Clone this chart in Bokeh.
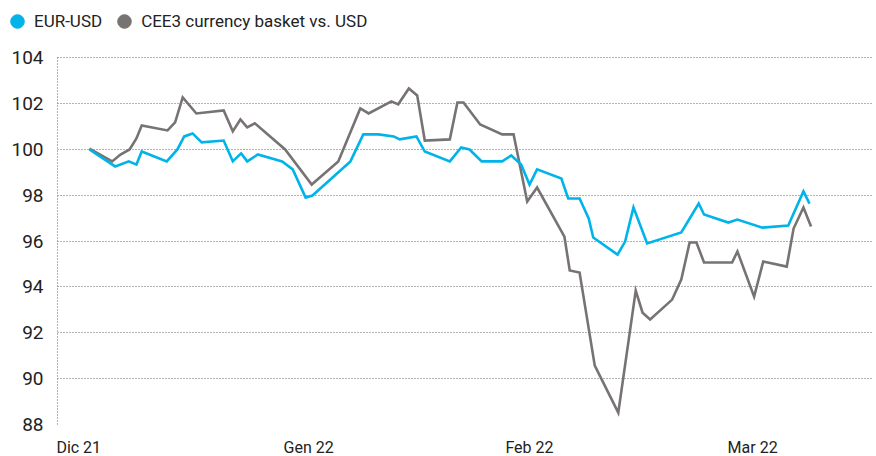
from bokeh.plotting import figure
from bokeh.layouts import column
from bokeh.models import Range1d, FixedTicker, Legend, LegendItem
from bokeh.embed import file_html
from bokeh.resources import INLINE

# ---- data (x: position along the month-spaced axis; month starts at 0, 30, 60, 90)
month_label_pos = [2.8, 33.1, 62.2, 91.6]     # where each month label sits (left-aligned look)
month_labels = ["Dic 21", "Gen 22", "Feb 22", "Mar 22"]
y_ticks = [88, 90, 92, 94, 96, 98, 100, 102, 104]

eur_x = [4.2, 7.6, 9.4, 10.4, 11.1, 14.4, 15.8, 16.7, 17.8, 19.0, 21.9, 23.1, 24.2, 25.0, 26.4,
         29.6, 31.0, 32.7, 33.6, 38.6, 40.3, 42.3, 44.3, 45.1, 47.3, 48.4, 51.7, 53.2, 54.3, 55.9,
         58.6, 59.8, 61.1, 62.2, 63.2, 66.4, 67.3, 68.8, 70.0, 70.6, 73.8, 74.8, 75.9, 77.7, 82.2,
         84.5, 85.2, 88.4, 89.6, 92.9, 96.3, 98.3, 99.1]
eur_usd = [100.0, 99.26, 99.48, 99.34, 99.91, 99.48, 100.0, 100.57, 100.70, 100.31, 100.39, 99.48,
           99.83, 99.48, 99.78, 99.48, 99.13, 97.90, 97.99, 99.48, 100.66, 100.66, 100.57, 100.44,
           100.57, 99.91, 99.48, 100.09, 100.0, 99.48, 99.48, 99.74, 99.34, 98.47, 99.13, 98.73,
           97.86, 97.86, 96.99, 96.16, 95.41, 95.98, 97.47, 95.90, 96.38, 97.64, 97.16, 96.81,
           96.94, 96.59, 96.68, 98.17, 97.64]

cee3_x = [4.2, 7.2, 8.3, 9.5, 10.4, 11.1, 14.5, 15.5, 16.5, 18.3, 21.9, 23.1, 24.1, 25.0, 26.0,
          30.0, 33.5, 37.0, 39.9, 41.0, 44.0, 44.9, 46.3, 47.4, 48.4, 51.7, 52.7, 53.5, 55.7, 58.6,
          60.1, 61.9, 63.2, 66.8, 67.5, 68.8, 70.8, 73.9, 76.2, 77.1, 78.1, 81.0, 82.2, 83.3, 84.2,
          85.2, 88.9, 89.6, 91.8, 93.0, 96.1, 97.0, 98.3, 99.3]
cee3_usd = [100.04, 99.48, 99.78, 100.0, 100.48, 101.05, 100.83, 101.18, 102.27, 101.57, 101.70,
            100.79, 101.31, 100.96, 101.14, 100.0, 98.47, 99.48, 101.79, 101.57, 102.10, 101.97,
            102.66, 102.36, 100.39, 100.44, 102.05, 102.05, 101.09, 100.66, 100.66, 97.73, 98.34,
            96.20, 94.72, 94.63, 90.57, 88.52, 93.84, 92.88, 92.58, 93.45, 94.32, 95.94, 95.94,
            95.07, 95.07, 95.55, 93.58, 95.11, 94.89, 96.55, 97.47, 96.64]

series_names = ["EUR-USD", "CEE3 currency basket vs. USD"]

CYAN = "#00B4EA"
GRAY = "#777372"
TEXT = "#222222"
FONT = "Roboto"

# ---------------- legend strip ----------------
lg = figure(frame_width=872, frame_height=42, x_range=Range1d(0, 1), y_range=Range1d(0, 1),
            output_backend="svg", toolbar_location=None,
            min_border_left=0, min_border_right=0, min_border_top=0, min_border_bottom=0)
lg.axis.visible = False
lg.grid.visible = False
lg.outline_line_color = None
# one point each (lies outside this strip's ranges, so only the legend glyph shows)
r_eur = lg.scatter(x=eur_x[:1], y=eur_usd[:1], size=10, fill_color=CYAN, line_color=CYAN)
r_cee = lg.scatter(x=cee3_x[:1], y=cee3_usd[:1], size=10, fill_color=GRAY, line_color=GRAY)
legend = Legend(items=[LegendItem(label=series_names[0], renderers=[r_eur]),
                       LegendItem(label=series_names[1], renderers=[r_cee])],
                location=(0, 4), orientation="horizontal",
                glyph_width=34, glyph_height=34, label_standoff=0, spacing=5,
                padding=0, margin=0, background_fill_alpha=0, border_line_alpha=0,
                label_text_font=FONT, label_text_font_size="17px", label_text_color=TEXT)
lg.add_layout(legend)

# ---------------- main chart ----------------
p = figure(frame_width=815, frame_height=369,
           x_range=Range1d(0, 107.4), y_range=Range1d(88, 104.1),
           output_backend="svg", toolbar_location=None,
           min_border_left=57, min_border_right=0, min_border_top=13, min_border_bottom=32)
p.outline_line_color = None
p.background_fill_color = "white"

p.line(cee3_x, cee3_usd, line_color=GRAY, line_width=2.6, line_join="miter")
p.line(eur_x, eur_usd, line_color=CYAN, line_width=2.6, line_join="miter")

# x axis
p.xaxis.ticker = FixedTicker(ticks=month_label_pos)
p.xaxis.major_label_overrides = {t: l for t, l in zip(month_label_pos, month_labels)}
p.xaxis.axis_line_color = None
p.xaxis.major_tick_line_color = None
p.xaxis.minor_tick_line_color = None
p.xaxis.major_tick_out = 0
p.xaxis.major_tick_in = 0
p.xaxis.major_label_standoff = 13
p.xaxis.major_label_text_font = FONT
p.xaxis.major_label_text_font_size = "16px"
p.xaxis.major_label_text_color = TEXT
p.xgrid.visible = False

# y axis
p.yaxis.ticker = FixedTicker(ticks=y_ticks)
p.yaxis.axis_line_color = "#666666"
p.yaxis.axis_line_dash = "1 2"
p.yaxis.axis_line_width = 1
p.yaxis.major_tick_line_color = None
p.yaxis.minor_tick_line_color = None
p.yaxis.major_tick_out = 0
p.yaxis.major_tick_in = 0
p.yaxis.major_label_standoff = 14
p.yaxis.major_label_text_font = FONT
p.yaxis.major_label_text_font_size = "19px"
p.yaxis.major_label_text_color = TEXT
p.ygrid.ticker = FixedTicker(ticks=y_ticks)
p.ygrid.grid_line_color = "#666666"
p.ygrid.grid_line_dash = "1 2"
p.ygrid.grid_line_width = 1

layout = column(lg, p)
open("out.html", "w").write(file_html(layout, INLINE))
